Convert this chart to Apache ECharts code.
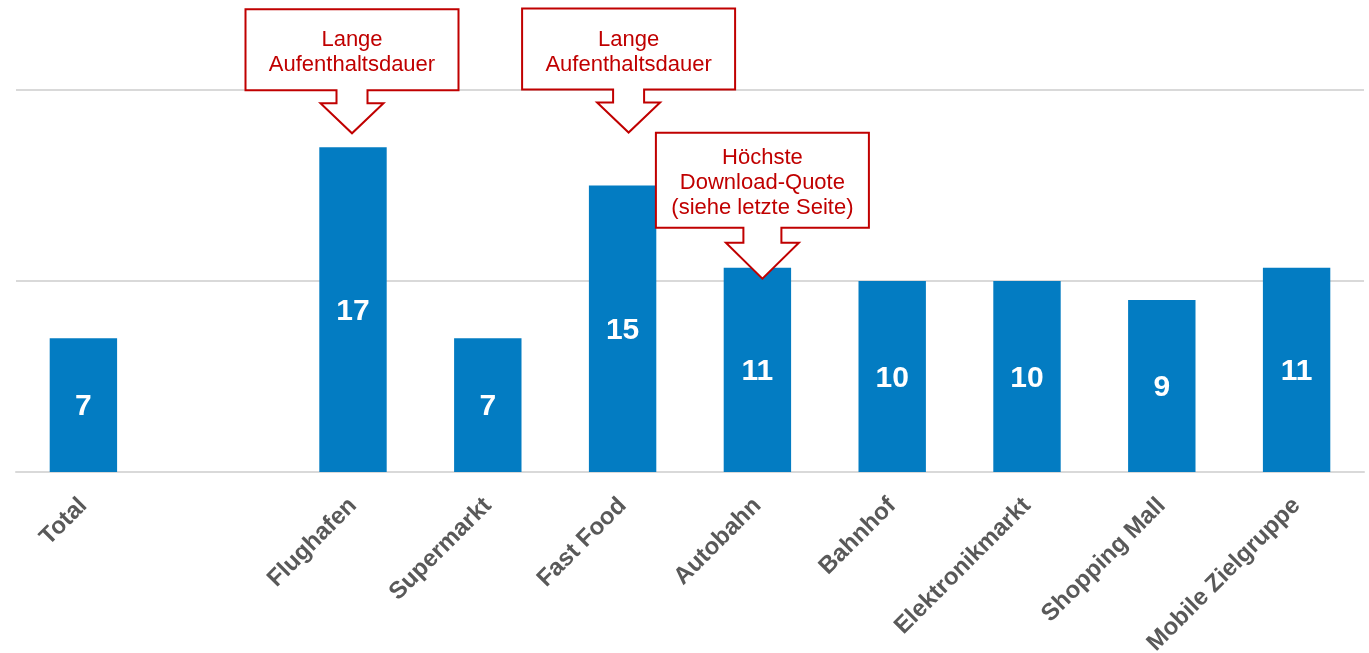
<!DOCTYPE html>
<html>
<head>
<meta charset="utf-8">
<script src="https://cdn.jsdelivr.net/npm/echarts@6/dist/echarts.min.js"></script>
<style>
html,body{margin:0;padding:0;background:#fff;}
#chart{width:1369px;height:653px;}
</style>
</head>
<body>
<div id="chart"></div>
<script>
// ---- data ----
const categories = ['Total', '', 'Flughafen', 'Supermarkt', 'Fast Food', 'Autobahn', 'Bahnhof', 'Elektronikmarkt', 'Shopping Mall', 'Mobile Zielgruppe'];
const values = [7.0, null, 17.0, 7.0, 15.0, 10.7, 10.0, 10.0, 9.0, 10.7];
const yTicks = [0, 10, 20];
const annotationCategories = ['Flughafen', 'Fast Food', 'Autobahn'];
const annotationTexts = ['Lange\nAufenthaltsdauer', 'Lange\nAufenthaltsdauer', 'Höchste\nDownload-Quote\n(siehe letzte Seite)'];

// ---- chart ----
const chart = echarts.init(document.getElementById('chart'), null, {renderer: 'canvas'});
const FONT = '"Liberation Sans", Arial, sans-serif';

chart.setOption({
  animation: false,
  backgroundColor: '#ffffff',
  grid: {left: 16, right: 5, top: 90, bottom: 181, containLabel: false, outerBoundsMode: 'none'},
  xAxis: {
    type: 'category',
    data: categories,
    axisLine: {lineStyle: {color: '#d9d9d9', width: 2}},
    axisTick: {show: false},
    axisLabel: {
      interval: 0, rotate: 45, margin: 30,
      color: '#595959', fontSize: 24, fontWeight: 'bold', fontFamily: FONT
    }
  },
  yAxis: {
    type: 'value',
    min: yTicks[0], max: yTicks[yTicks.length - 1], interval: yTicks[1] - yTicks[0],
    axisLabel: {show: false},
    axisLine: {show: false},
    axisTick: {show: false},
    splitLine: {lineStyle: {color: '#d9d9d9', width: 2}}
  },
  series: [{
    type: 'bar',
    data: values,
    barWidth: '50%',
    itemStyle: {color: '#037cc2'},
    label: {
      show: true, position: 'inside', offset: [0, 2],
      color: '#ffffff', fontSize: 30, fontWeight: 'bold', fontFamily: FONT,
      formatter: p => p.value == null ? '' : String(Math.round(p.value))
    }
  }]
});

// ---- callouts (positioned from the chart's scales) ----
const calloutStyles = [
  {boxW: 213, boxH: 81, shaftHalf: 15.5, shaftLen: 13, headHalf: 31.5, headLen: 30, tipGap: 14, dx: -1},
  {boxW: 213, boxH: 81, shaftHalf: 15.5, shaftLen: 13, headHalf: 31.5, headLen: 30, tipGap: 53, dx: 6},
  {boxW: 213, boxH: 95, shaftHalf: 19, shaftLen: 15, headHalf: 36.5, headLen: 36, tipGap: -11, dx: 5}
];
const graphics = [];
annotationCategories.forEach((cat, i) => {
  const idx = categories.indexOf(cat);
  const top = chart.convertToPixel({xAxisIndex: 0, yAxisIndex: 0}, [idx, values[idx]]);
  const s = calloutStyles[i];
  const cx = top[0] + s.dx;
  const tipY = top[1] - s.tipGap;
  const headTop = tipY - s.headLen;
  const boxBottom = headTop - s.shaftLen;
  const boxTop = boxBottom - s.boxH;
  const L = cx - s.boxW / 2, R = cx + s.boxW / 2;
  const pts = [
    [L, boxTop], [R, boxTop], [R, boxBottom], [cx + s.shaftHalf, boxBottom],
    [cx + s.shaftHalf, headTop], [cx + s.headHalf, headTop], [cx, tipY],
    [cx - s.headHalf, headTop], [cx - s.shaftHalf, headTop], [cx - s.shaftHalf, boxBottom],
    [L, boxBottom]
  ];
  graphics.push({
    type: 'polygon', z: 100,
    shape: {points: pts},
    style: {fill: '#ffffff', stroke: '#c00000', lineWidth: 2}
  });
  graphics.push({
    type: 'text', z: 101,
    x: cx, y: boxTop + s.boxH / 2 + 3,
    style: {
      text: annotationTexts[i], fill: '#c00000',
      font: '22px ' + FONT, lineHeight: 25,
      align: 'center', verticalAlign: 'middle'
    }
  });
});
chart.setOption({graphic: graphics});
</script>
</body>
</html>
